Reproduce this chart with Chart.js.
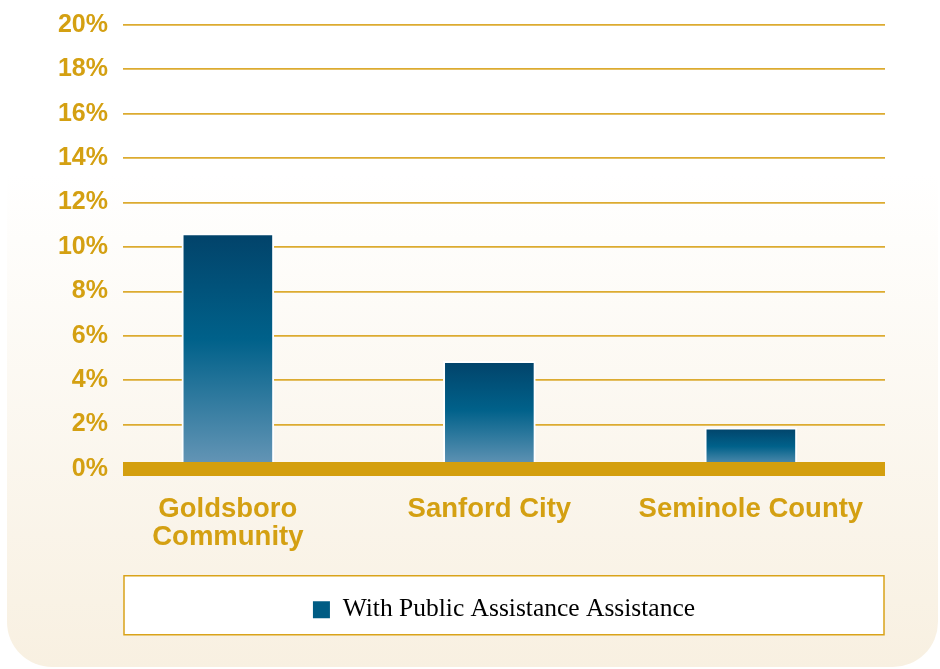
<!DOCTYPE html>
<html>
<head>
<meta charset="utf-8">
<script src="https://cdn.jsdelivr.net/npm/chart.js@4.4.0/dist/chart.umd.min.js"></script>
<style>
    html, body { margin: 0; padding: 0; background: #fff; }
    #wrap { position: relative; width: 940px; height: 669px; overflow: hidden; }
    #panel {
        position: absolute; left: 7px; top: 0; width: 931px; height: 667px;
        border-radius: 0 0 45px 45px;
        background: linear-gradient(#ffffff 0%, #ffffff 26%, #f8f0e1 100%);
    }
    canvas { position: absolute; left: 0; top: 0; }
</style>
</head>
<body>
<div id="wrap">
    <div id="panel"></div>
    <canvas id="myChart" width="940" height="669"></canvas>
</div>
<script>
const categories = [['Goldsboro', 'Community'], 'Sanford City', 'Seminole County'];
const assistanceValues = [10.6, 4.85, 1.85];
const yTickValues = [0, 2, 4, 6, 8, 10, 12, 14, 16, 18, 20];
const seriesLabel = 'With Public Assistance Assistance';

const gold = '#d4a012';

// white box with a gold frame behind the legend
const legendBox = {
    id: 'legendBox',
    beforeDraw(chart) {
        const legend = chart.legend;
        if (!legend || !legend.legendHitBoxes.length) return;
        const hb = legend.legendHitBoxes[0];
        const cy = hb.top + hb.height / 2;
        const area = chart.chartArea;
        const c = chart.ctx;
        c.save();
        c.fillStyle = '#ffffff';
        c.strokeStyle = '#d9a31a';
        c.lineWidth = 1.5;
        c.fillRect(area.left + 1, cy - 34, area.right - area.left - 2, 59);
        c.strokeRect(area.left + 1, cy - 34, area.right - area.left - 2, 59);
        c.restore();
    }
};

// thick gold band along the zero line, over the bar bottoms
const zeroBand = {
    id: 'zeroBand',
    afterDatasetsDraw(chart) {
        const area = chart.chartArea;
        const y0 = chart.scales.y.getPixelForValue(0);
        const c = chart.ctx;
        c.save();
        c.fillStyle = '#d49f0e';
        c.fillRect(area.left, y0 - 7, area.right - area.left, 14);
        c.restore();
    }
};

const ctx = document.getElementById('myChart').getContext('2d');
const myChart = new Chart(ctx, {
    type: 'bar',
    data: {
        datasets: [{
            label: seriesLabel,
            data: assistanceValues.map((v, i) => ({ x: i, y: v })),
            backgroundColor: (c) => {
                const chart = c.chart;
                const y = chart.scales.y;
                if (!chart.chartArea || !y || c.type !== 'data') return '#00628a';
                const top = y.getPixelForValue(c.parsed.y);
                const base = y.getPixelForValue(0);
                const g = chart.ctx.createLinearGradient(0, top, 0, base);
                g.addColorStop(0, '#02436a');
                g.addColorStop(0.45, '#00618a');
                g.addColorStop(1, '#6897b7');
                return g;
            },
            borderColor: '#ffffff',
            borderWidth: 2,
            borderSkipped: 'bottom',
            barThickness: 92
        }]
    },
    options: {
        responsive: false,
        animation: false,
        layout: { padding: { top: 25, right: 55, bottom: 36.5, left: 0 } },
        scales: {
            x: {
                type: 'linear',
                offset: false,
                min: -0.401,
                max: 2.513,
                afterBuildTicks: (s) => { s.ticks = categories.map((c, i) => ({ value: i })); },
                afterFit: (s) => { s.height = 118; },
                grid: { display: false, drawTicks: false },
                border: { display: false },
                ticks: {
                    callback: (v) => categories[v],
                    color: gold,
                    padding: 26,
                    maxRotation: 0,
                    autoSkip: false,
                    font: { family: 'Liberation Sans', size: 27.5, weight: 'bold', lineHeight: 1.02 }
                }
            },
            y: {
                min: yTickValues[0],
                max: yTickValues[yTickValues.length - 1],
                afterBuildTicks: (s) => { s.ticks = yTickValues.map(v => ({ value: v })); },
                afterFit: (s) => { s.width = 123; s.paddingTop = 0; s.paddingBottom = 0; },
                grid: { color: '#dcab30', lineWidth: 1.8, drawTicks: false },
                border: { display: false },
                ticks: {
                    callback: (v) => v + '%',
                    color: gold,
                    padding: 15,
                    font: { family: 'Liberation Sans', size: 25, weight: 'bold' }
                }
            }
        },
        plugins: {
            tooltip: { enabled: false },
            legend: {
                position: 'bottom',
                fullSize: false,
                labels: {
                    boxWidth: 17,
                    boxHeight: 17,
                    padding: 10,
                    color: '#222222',
                    font: { family: 'Liberation Serif', size: 25.5 },
                    generateLabels: () => [{
                        text: seriesLabel,
                        fillStyle: '#005c84',
                        strokeStyle: '#005c84',
                        lineWidth: 0,
                        hidden: false,
                        datasetIndex: 0
                    }]
                }
            }
        }
    },
    plugins: [legendBox, zeroBand]
});
</script>
</body>
</html>
